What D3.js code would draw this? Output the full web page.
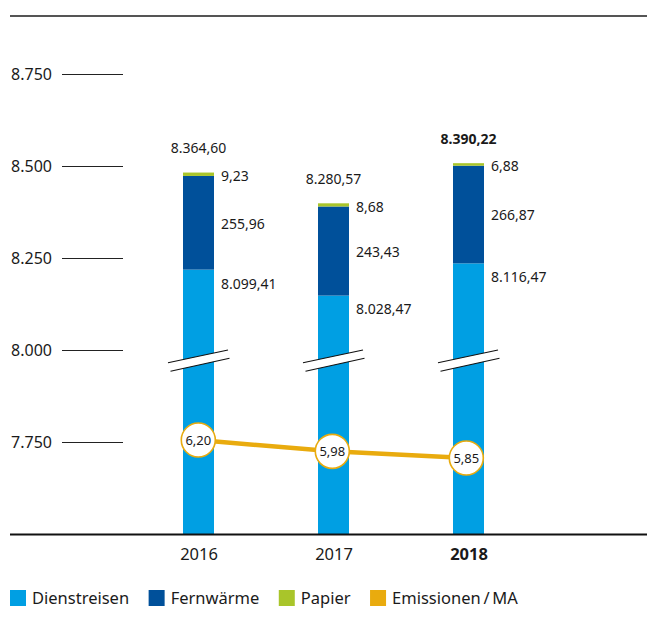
<!DOCTYPE html>
<html>
<head>
<meta charset="utf-8">
<script src="https://cdn.jsdelivr.net/npm/d3@7"></script>
<style>
  html, body { margin: 0; padding: 0; background: #fff; }
  svg { display: block; font-family: "Noto Sans", "Open Sans", sans-serif; }
</style>
</head>
<body>
<svg id="chart" width="647" height="637"></svg>
<script>
// ---- data ----
const years = ["2016", "2017", "2018"];
const dienstreisen = [8099.41, 8028.47, 8116.47];
const fernwaerme = [255.96, 243.43, 266.87];
const papier = [9.23, 8.68, 6.88];
const totals = ["8.364,60", "8.280,57", "8.390,22"];
const emissionenMA = [6.20, 5.98, 5.85];
const yTicks = [7750, 8000, 8250, 8500, 8750];
const seriesNames = ["Dienstreisen", "Fernwärme", "Papier", "Emissionen\u2009/\u2009MA"];
const colors = ["#009fe3", "#00509a", "#a9c52a", "#e9ab0e"];

const fmt = (v, d) => v.toLocaleString("de-DE", { minimumFractionDigits: d, maximumFractionDigits: d, useGrouping: true });

const svg = d3.select("#chart");
const bottomY = 534;
const barW = 31;

const x = d3.scalePoint().domain(years).range([198.5, 468.5]);
const xLine = d3.scalePoint().domain(years).range([198.3, 466.3]);
const yAxisScale = d3.scaleLinear().domain([7750, 8750]).range([442, 74]);
// bars in the original sit on a shifted (broken) axis
const yBar = d3.scaleLinear().domain([7750, 8750]).range([397.5, 31.5]);
const yLine = d3.scaleLinear().domain([5, 7]).range([501.7, 398.9]);

// top rule
svg.append("line").attr("x1", 10).attr("x2", 647).attr("y1", 16).attr("y2", 16)
  .attr("stroke", "#555").attr("stroke-width", 2);

// y axis (tick marks right of labels)
const yAxis = d3.axisLeft(yAxisScale).tickValues(yTicks).tickSize(61).tickPadding(10)
  .tickFormat(d => fmt(d, 0));
const gy = svg.append("g").attr("transform", "translate(123,0)").call(yAxis);
gy.select(".domain").remove();
gy.selectAll(".tick line").attr("stroke", "#222").attr("stroke-width", 1.2);
gy.selectAll(".tick text").attr("font-size", 16).attr("fill", "#1a1a1a")
  .attr("font-family", "Noto Sans, sans-serif");

// stacked bars
const rows = years.map((yr, i) => ({
  yr, d: dienstreisen[i], f: fernwaerme[i], p: papier[i], total: totals[i], i
}));

const bars = svg.append("g");
rows.forEach(r => {
  const cx = x(r.yr);
  const top1 = yBar(r.d), top2 = yBar(r.d + r.f), top3 = yBar(r.d + r.f + r.p);
  bars.append("rect").attr("x", cx - barW / 2).attr("width", barW)
    .attr("y", top1).attr("height", bottomY - top1).attr("fill", colors[0]);
  bars.append("rect").attr("x", cx - barW / 2).attr("width", barW)
    .attr("y", top2).attr("height", top1 - top2).attr("fill", colors[1]);
  bars.append("rect").attr("x", cx - barW / 2).attr("width", barW)
    .attr("y", top3).attr("height", top2 - top3).attr("fill", colors[2]);

  // value labels
  const lx = cx + barW / 2 + 7;
  const t = (y, txt) => bars.append("text").attr("x", lx).attr("y", y)
    .attr("dy", "0.35em").attr("font-size", 14).attr("fill", "#1a1a1a").text(txt);
  t((top2 + top3) / 2 + 2, fmt(r.p, 2));
  t((top1 + top2) / 2 + 1, fmt(r.f, 2));
  t(top1 + 14, fmt(r.d, 2));
  bars.append("text").attr("x", cx).attr("y", top3 - 24).attr("dy", "0.35em")
    .attr("text-anchor", "middle").attr("font-size", 14).attr("fill", "#1a1a1a")
    .attr("font-weight", r.i === years.length - 1 ? "bold" : "normal")
    .text(r.total);

  // axis break mark
  const by = yAxisScale(8000);
  const p1 = [cx - 30.5, by + 12.7], p2 = [cx + 29.5, by];
  const p3 = [cx + 31, by + 8.3], p4 = [cx - 28, by + 21.3];
  bars.append("polygon").attr("points", [p1, p2, p3, p4].map(p => p.join(",")).join(" "))
    .attr("fill", "#fff");
  bars.append("line").attr("x1", p1[0]).attr("y1", p1[1]).attr("x2", p2[0]).attr("y2", p2[1])
    .attr("stroke", "#111").attr("stroke-width", 1.1);
  bars.append("line").attr("x1", p4[0]).attr("y1", p4[1]).attr("x2", p3[0]).attr("y2", p3[1])
    .attr("stroke", "#111").attr("stroke-width", 1.1);
});

// bottom axis line
svg.append("line").attr("x1", 10).attr("x2", 647).attr("y1", bottomY + 0.5).attr("y2", bottomY + 0.5)
  .attr("stroke", "#111").attr("stroke-width", 2);

// x axis labels
const xAxis = d3.axisBottom(x).tickSize(0).tickPadding(14);
const gx = svg.append("g").attr("transform", `translate(0,${bottomY})`).call(xAxis);
gx.select(".domain").remove();
gx.selectAll(".tick text").attr("font-size", 16.5).attr("fill", "#1a1a1a")
  .attr("font-family", "Noto Sans, sans-serif")
  .attr("font-weight", d => d === years[years.length - 1] ? "bold" : "normal");

// emissions line
const line = d3.line().x((d, i) => xLine(years[i])).y(d => yLine(d));
svg.append("path").datum(emissionenMA).attr("d", line)
  .attr("fill", "none").attr("stroke", colors[3]).attr("stroke-width", 4.5);
const pts = svg.append("g").selectAll("g").data(emissionenMA).join("g")
  .attr("transform", (d, i) => `translate(${xLine(years[i])},${yLine(d)})`);
pts.append("circle").attr("r", 17).attr("fill", "#fff")
  .attr("stroke", colors[3]).attr("stroke-width", 1.6);
pts.append("text").attr("text-anchor", "middle").attr("dy", "0.35em")
  .attr("font-size", 13).attr("fill", "#1a1a1a").text(d => fmt(d, 2));

// legend
const legend = svg.append("g").attr("transform", "translate(10,590)");
let lxPos = 0;
seriesNames.forEach((name, i) => {
  const g = legend.append("g").attr("transform", `translate(${lxPos},0)`);
  g.append("rect").attr("width", 16).attr("height", 16).attr("fill", colors[i]);
  const txt = g.append("text").attr("x", 22).attr("y", 8).attr("dy", "0.35em")
    .attr("font-size", 16.5).attr("fill", "#1a1a1a").text(name);
  lxPos += 22 + txt.node().getComputedTextLength() + 19.5;
});
</script>
</body>
</html>
